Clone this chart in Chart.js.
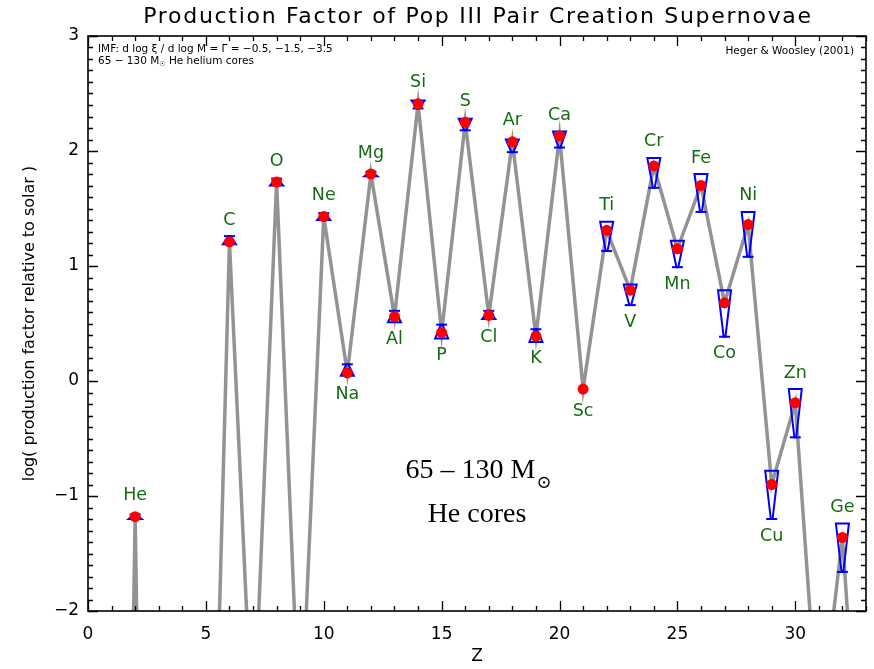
<!DOCTYPE html>
<html>
<head>
<meta charset="utf-8">
<script src="https://cdn.jsdelivr.net/npm/chart.js@4/dist/chart.umd.min.js"></script>
<style>
  html, body { margin: 0; padding: 0; background: #ffffff; }
  #wrap { width: 874px; height: 669px; }
</style>
</head>
<body>
<div id="wrap"><canvas id="c" width="874" height="669"></canvas></div>
<script>
// Atomic number and element symbol of each species
const atomicNumber = [1, 2, 3, 4, 5, 6, 7, 8, 9, 10, 11, 12, 13, 14, 15, 16, 17,
                      18, 19, 20, 21, 22, 23, 24, 25, 26, 27, 28, 29, 30, 31, 32, 33];
const symbols = ['H', 'He', 'Li', 'Be', 'B', 'C', 'N', 'O', 'F', 'Ne', 'Na', 'Mg', 'Al',
                 'Si', 'P', 'S', 'Cl', 'Ar', 'K', 'Ca', 'Sc', 'Ti', 'V', 'Cr', 'Mn', 'Fe',
                 'Co', 'Ni', 'Cu', 'Zn', 'Ga', 'Ge', 'As'];

// log production factor for the IMF slope Γ = -1.5 (red points, grey line)
const logProduction = [-14, -1.18, -14, -12, -6.4, 1.21, -3.2, 1.73, -3.2, 1.43, 0.07,
                       1.80, 0.56, 2.41, 0.42, 2.25, 0.57, 2.08, 0.39, 2.13, -0.07, 1.31,
                       0.79, 1.87, 1.15, 1.70, 0.68, 1.36, -0.90, -0.19, -3.1, -1.36, -4.4];

// Same quantity for Γ = -0.5 (wide end of the blue funnel)
const logProdShallow = [null, -1.20, null, null, null, 1.19, null, 1.70, null, 1.40, 0.046,
                        1.78, 0.51, 2.44, 0.37, 2.28, 0.54, 2.10, 0.34, 2.17, -0.072, 1.385,
                        0.84, 1.94, 1.22, 1.80, 0.79, 1.47, -0.78, -0.07, null, -1.24, null];

// Same quantity for Γ = -3.5 (narrow end of the blue funnel)
const logProdSteep = [null, -1.16, null, null, null, 1.26, null, 1.76, null, 1.46, 0.145,
                      1.82, 0.61, 2.37, 0.49, 2.18, 0.61, 1.99, 0.45, 2.03, -0.068, 1.13,
                      0.66, 1.68, 0.99, 1.47, 0.385, 1.08, -1.20, -0.49, null, -1.66, null];

// Where each element name is written: 1 above the marker, -1 below, 0 not written
const labelSide = [0, 1, 0, 0, 0, 1, 0, 1, 0, 1, -1, 1, -1, 1, -1, 1, -1, 1, -1, 1, -1, 1,
                   -1, 1, -1, 1, -1, 1, -1, 1, 0, 1, 0];

const xTickValues = [0, 5, 10, 15, 20, 25, 30];
const yTickValues = [-2, -1, 0, 1, 2, 3];

const SANS = '"DejaVu Sans", sans-serif';
const SERIF = '"Liberation Serif", "DejaVu Serif", serif';
const LABEL_GREEN = '#156b15';

const linePoints = atomicNumber.map((z, i) => ({ x: z, y: logProduction[i] }));
const dotPoints = atomicNumber
  .map((z, i) => ({ x: z, y: logProduction[i], shown: logProdShallow[i] !== null }))
  .filter(p => p.shown)
  .map(p => ({ x: p.x, y: p.y }));

// Blue Γ-range funnels, drawn right after the grey line so the red points sit on top
const funnelPlugin = {
  id: 'funnels',
  afterDatasetDraw(chart, args) {
    if (args.index !== 1) return;
    const ctx = chart.ctx;
    const xs = chart.scales.x, ys = chart.scales.y;
    const a = chart.chartArea;
    ctx.save();
    ctx.beginPath();
    ctx.rect(a.left, a.top, a.right - a.left, a.bottom - a.top);
    ctx.clip();
    ctx.strokeStyle = '#0000ff';
    ctx.lineWidth = 2;
    ctx.lineJoin = 'miter';
    atomicNumber.forEach((z, i) => {
      if (logProdShallow[i] === null) return;
      const px = xs.getPixelForValue(z);
      const yW = ys.getPixelForValue(logProdShallow[i]);
      const yN = ys.getPixelForValue(logProdSteep[i]);
      const hw = Math.abs(yW - yN) < 3 ? 4 : 6.5;
      ctx.beginPath();
      ctx.moveTo(px - hw, yW);
      ctx.lineTo(px + hw, yW);
      ctx.lineTo(px + 0.9, yN);
      ctx.lineTo(px - 0.9, yN);
      ctx.closePath();
      ctx.stroke();
      ctx.beginPath();
      ctx.moveTo(px - hw + 1, yN);
      ctx.lineTo(px + hw - 1, yN);
      ctx.stroke();
    });
    ctx.restore();
  }
};

// Frame with inward ticks on all four sides, element names and captions
const decorPlugin = {
  id: 'decor',
  afterDraw(chart) {
    const ctx = chart.ctx;
    const xs = chart.scales.x, ys = chart.scales.y;
    const { left, right, top, bottom } = chart.chartArea;
    ctx.save();
    ctx.strokeStyle = '#000000';
    ctx.lineWidth = 1.6;
    ctx.strokeRect(left, top, right - left, bottom - top);
    ctx.beginPath();
    for (let z = 0; z <= 33; z++) {
      const px = Math.round(xs.getPixelForValue(z)) + 0.5;
      const len = z % 5 === 0 ? 10 : 5;
      ctx.moveTo(px, bottom); ctx.lineTo(px, bottom - len);
      ctx.moveTo(px, top); ctx.lineTo(px, top + len);
    }
    for (let k = -20; k <= 30; k++) {
      const py = Math.round(ys.getPixelForValue(k / 10)) + 0.5;
      const len = k % 10 === 0 ? 10 : 5;
      ctx.moveTo(left, py); ctx.lineTo(left + len, py);
      ctx.moveTo(right, py); ctx.lineTo(right - len, py);
    }
    ctx.lineWidth = 1.3;
    ctx.stroke();

    // element names
    ctx.fillStyle = LABEL_GREEN;
    ctx.font = '17.5px ' + SANS;
    ctx.textAlign = 'center';
    ctx.textBaseline = 'middle';
    atomicNumber.forEach((z, i) => {
      if (!labelSide[i]) return;
      const px = xs.getPixelForValue(z);
      const ya = ys.getPixelForValue(logProdShallow[i]);
      const yb = ys.getPixelForValue(logProdSteep[i]);
      const yd = ys.getPixelForValue(logProduction[i]);
      if (labelSide[i] > 0) {
        ctx.fillText(symbols[i], px, Math.min(ya, yb, yd - 5) - 16);
      } else {
        ctx.fillText(symbols[i], px, Math.max(ya, yb, yd + 5) + 17);
      }
    });

    // title
    ctx.fillStyle = '#000000';
    ctx.textBaseline = 'middle';
    ctx.textAlign = 'center';
    ctx.font = '22px ' + SANS;
    ctx.letterSpacing = '1.7px';
    ctx.fillText('Production Factor of Pop III Pair Creation Supernovae', 478, 17);
    ctx.letterSpacing = '0px';

    // small notes inside the frame
    ctx.font = '10.5px ' + SANS;
    ctx.textAlign = 'left';
    ctx.fillText('IMF: d log \u03BE / d log M = \u0393 = \u22120.5, \u22121.5, \u22123.5', 98, 49);
    let x0 = 98;
    const part1 = '65 \u2212 130 M';
    ctx.fillText(part1, x0, 61);
    x0 += ctx.measureText(part1).width;
    ctx.font = '7px ' + SANS;
    ctx.fillText('\u2609', x0, 64);
    x0 += ctx.measureText('\u2609').width;
    ctx.font = '10.5px ' + SANS;
    ctx.fillText(' He helium cores', x0, 61);
    ctx.textAlign = 'right';
    ctx.fillText('Heger & Woosley (2001)', 854, 51);

    // central annotation
    ctx.textAlign = 'left';
    ctx.textBaseline = 'alphabetic';
    ctx.font = '28px ' + SERIF;
    const main = '65 \u2013 130 M';
    const w1 = ctx.measureText(main).width;
    ctx.font = '18px ' + SERIF;
    const wSun = ctx.measureText('\u2299').width;
    const startX = 478 - (w1 + wSun) / 2;
    ctx.font = '28px ' + SERIF;
    ctx.fillText(main, startX, 478);
    ctx.font = '18px ' + SERIF;
    ctx.fillText('\u2299', startX + w1 + 1, 488);
    ctx.font = '28px ' + SERIF;
    ctx.textAlign = 'center';
    ctx.fillText('He cores', 477, 522);
    ctx.restore();
  }
};

new Chart(document.getElementById('c'), {
  type: 'scatter',
  data: {
    datasets: [
      {
        label: 'Γ = -1.5',
        data: dotPoints,
        pointRadius: 5.5,
        pointHoverRadius: 5.5,
        pointBackgroundColor: '#ff0000',
        pointBorderWidth: 0,
        showLine: false
      },
      {
        label: 'production factor',
        data: linePoints,
        showLine: true,
        borderColor: '#939393',
        borderWidth: 3.5,
        pointRadius: 0,
        pointHoverRadius: 0,
        tension: 0
      }
    ]
  },
  options: {
    responsive: false,
    animation: false,
    devicePixelRatio: 1,
    layout: { padding: { top: 36, right: 8, left: 0, bottom: 0 } },
    plugins: {
      legend: { display: false },
      tooltip: { enabled: false },
      title: { display: false }
    },
    scales: {
      x: {
        type: 'linear',
        min: 0,
        max: 33,
        afterBuildTicks: s => { s.ticks = xTickValues.map(v => ({ value: v })); },
        afterFit: s => { s.height = 58; },
        grid: { display: false, drawTicks: false },
        border: { display: false },
        ticks: {
          autoSkip: false,
          maxRotation: 0,
          padding: 13,
          color: '#000000',
          font: { family: SANS, size: 17 },
          callback: v => String(v)
        },
        title: {
          display: true,
          text: 'Z',
          color: '#000000',
          font: { family: SANS, size: 17 },
          padding: { top: 0, bottom: 2 }
        }
      },
      y: {
        min: -2,
        max: 3,
        afterBuildTicks: s => { s.ticks = yTickValues.map(v => ({ value: v })); },
        afterFit: s => { s.width = 88; },
        grid: { display: false, drawTicks: false },
        border: { display: false },
        ticks: {
          autoSkip: false,
          padding: 9,
          color: '#000000',
          font: { family: SANS, size: 17 },
          callback: v => (v < 0 ? '\u2212' + Math.abs(v) : String(v))
        },
        title: {
          display: true,
          text: 'log( production factor relative to solar )',
          color: '#000000',
          font: { family: SANS, size: 16 },
          padding: { top: 20, bottom: 0 }
        }
      }
    }
  },
  plugins: [funnelPlugin, decorPlugin]
});
</script>
</body>
</html>
